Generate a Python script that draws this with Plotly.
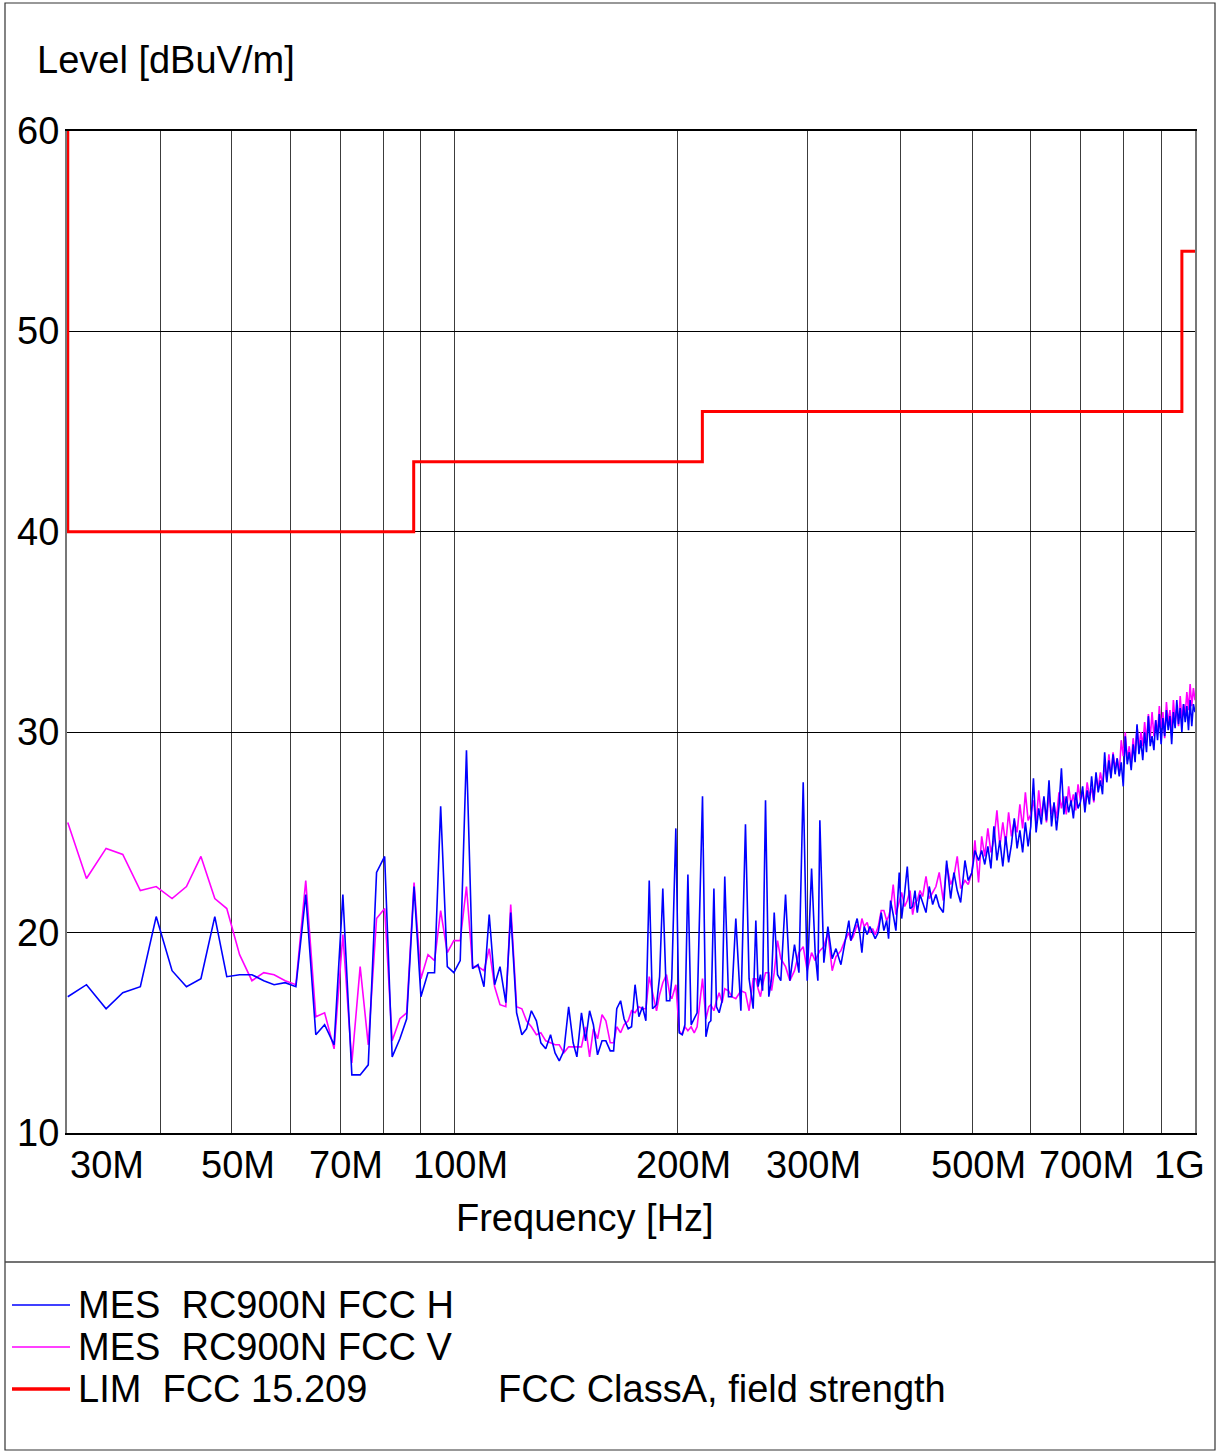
import math
import plotly.graph_objects as go

# ---------------- data (frequencies in MHz, levels in dBuV/m) ----------------
freq_a = [30.0, 31.8, 33.8, 35.6, 37.6, 39.5, 41.5, 43.4, 45.4, 47.4, 49.2, 51.2, 53.2, 55.2, 57.0, 59.0, 61.0, 62.9, 64.9]
h_a = [16.8, 17.4, 16.2, 17.0, 17.3, 20.8, 18.1, 17.3, 17.7, 20.8, 17.8, 17.9, 17.9, 17.6, 17.4, 17.5, 17.3, 21.9, 14.9]
v_a = [25.5, 22.7, 24.2, 23.9, 22.1, 22.3, 21.7, 22.3, 23.8, 21.7, 21.2, 18.9, 17.6, 18.0, 17.9, 17.6, 17.4, 22.6, 15.8]

freq_b = [66.7, 68.7, 70.6, 72.6, 74.5, 76.4, 78.4, 80.4, 82.3, 84.3, 86.1, 88.1, 90.0, 92.0, 93.9, 95.7, 97.7, 99.7,
          101.7, 103.7, 105.7, 107.5, 109.5, 111.3, 113.2, 115.1, 117.2, 119.0, 121.2]
h_b = [15.4, 14.4, 21.9, 12.9, 12.9, 13.4, 23.0, 23.8, 13.8, 14.7, 15.7, 22.3, 16.8, 18.0, 18.0, 26.3, 18.3, 18.0,
       18.6, 29.1, 18.2, 18.4, 17.3, 20.9, 17.4, 18.3, 16.5, 21.0, 16.0]
v_b = [16.0, 14.2, 19.9, 13.5, 18.3, 14.4, 20.7, 21.2, 14.6, 15.7, 16.0, 22.5, 17.7, 18.9, 18.6, 21.1, 19.0, 19.6,
       19.6, 22.3, 18.3, 18.3, 18.1, 19.2, 17.3, 16.4, 16.3, 21.4, 16.3]

freq_c = [123.2, 125.0, 126.9, 128.9, 130.7, 132.7, 134.7, 136.6, 138.4, 140.4, 142.5, 144.5, 146.2, 148.3, 150.2,
          152.1, 153.9, 155.9, 158.1, 160.0, 162.2, 163.9, 165.5, 167.5, 169.3, 171.5, 173.3, 175.2, 177.3, 179.3]
h_c = [14.9, 15.2, 16.1, 15.6, 14.5, 14.2, 14.9, 14.0, 13.6, 14.1, 16.3, 14.5, 13.8, 16.0, 14.6,
       16.1, 15.4, 13.9, 14.6, 14.6, 14.1, 14.1, 16.2, 16.6, 15.7, 15.2, 15.3, 17.4, 15.8, 16.3]
v_c = [16.2, 15.6, 15.3, 14.9, 15.0, 14.6, 14.5, 14.4, 14.4, 14.0, 14.3, 14.3, 14.3, 14.3, 15.3,
       13.8, 15.2, 14.7, 15.9, 15.6, 14.5, 14.5, 15.3, 15.0, 15.4, 15.6, 16.1, 16.0, 16.3, 16.2]

freq_d = [181.2, 183.1, 185.0, 187.3, 189.1, 191.0, 193.2, 195.2, 196.4, 198.9, 201.0, 202.9, 204.6, 206.5, 208.6,
          210.6, 212.5, 216.1, 218.4, 220.4, 221.8, 223.9, 225.7, 227.6, 229.7, 231.6, 234.3, 236.7, 239.7, 243.5,
          247.0, 249.8, 253.0, 255.1, 256.9, 258.8, 260.5, 262.9, 265.6, 267.9, 270.1, 272.9, 275.7, 279.8, 283.6,
          287.7, 291.7, 295.6, 299.3, 303.4, 306.8, 309.4, 311.3, 315.2, 319.2, 323.5, 327.3, 332.4, 336.5, 340.7]
h_d = [15.6, 22.6, 16.2, 16.4, 17.8, 22.2, 16.6, 16.6, 17.7, 25.2, 15.0, 14.9, 15.4, 22.9, 15.4,
       15.7, 16.0, 26.8, 14.8, 15.5, 15.6, 22.2, 16.3, 16.0, 16.6, 22.8, 16.8, 16.8, 20.7, 16.1,
       25.4, 17.7, 16.2, 20.6, 17.3, 17.9, 17.1, 26.6, 16.8, 17.7, 21.0, 17.9, 17.6, 21.9, 17.6,
       19.4, 18.0, 27.5, 17.6, 23.2, 19.0, 17.6, 25.6, 18.5, 20.3, 18.7, 19.2, 18.4, 19.6, 20.6]
v_d = [16.2, 17.8, 17.0, 16.1, 16.9, 17.5, 17.9, 16.9, 16.7, 17.4, 15.1, 14.9, 15.3, 15.1, 15.3,
       15.0, 15.3, 17.7, 15.7, 16.3, 16.4, 16.1, 16.6, 17.0, 16.5, 17.2, 17.1, 16.8, 16.7, 17.1,
       17.0, 16.1, 17.7, 17.7, 17.2, 16.8, 17.4, 18.0, 18.0, 17.1, 18.0, 19.6, 18.7, 18.3, 17.6,
       18.1, 19.0, 19.3, 18.1, 19.0, 18.6, 18.9, 19.1, 19.3, 20.0, 18.1, 18.8, 19.1, 19.6, 20.0]

freq_e = [342.8, 345.3, 349.6, 352.6, 354.8, 357.3, 360.7, 363.7, 366.8, 369.8, 373.3, 376.8, 379.9, 383.2, 385.5,
          387.9, 391.1, 394.4, 398.5, 401.5, 405.3, 408.6, 412.1, 415.5, 418.5, 421.5, 425.1, 428.6, 433.1, 437.5,
          442.2, 446.7, 451.3, 457.0, 461.8, 467.6, 472.4, 477.3, 482.4, 488.9, 493.9, 499.6, 504.3]
h_e = [19.6, 20.0, 20.7, 19.9, 19.0, 20.3, 19.9, 20.3, 20.0, 19.7, 20.0, 21.0, 20.1, 20.6, 19.7,
       21.6, 20.9, 20.1, 23.0, 20.7, 22.0, 23.3, 21.2, 21.3, 22.1, 21.0, 21.9, 21.5, 21.0, 22.3,
       21.4, 21.9, 21.3, 21.0, 23.6, 21.7, 23.0, 22.1, 21.5, 23.6, 22.6, 23.0, 24.1]
v_e = [19.6, 19.8, 20.4, 20.1, 20.7, 20.3, 20.5, 20.0, 20.2, 19.9, 20.3, 21.1, 21.1, 20.6, 20.8,
       21.2, 22.4, 20.9, 21.6, 22.0, 21.3, 21.6, 22.1, 20.9, 21.5, 21.6, 22.1, 21.8, 22.8, 21.7,
       22.0, 22.3, 23.0, 21.6, 23.4, 22.4, 22.8, 23.8, 22.2, 22.6, 22.4, 23.0, 24.6]

freq_f = [510, 515, 520, 525, 530, 535, 540, 545, 550, 555, 560, 565, 570, 575, 580, 585, 590, 595, 600, 605,
          610, 615, 620, 625, 630, 635, 640, 645, 650, 655, 660, 665, 670, 675, 680, 685, 690, 695, 700, 705,
          710, 715, 720, 725, 730, 735, 740, 745, 750, 755, 760, 765, 770, 775, 780, 785, 790, 795, 800, 805,
          810, 815, 820, 825, 830, 835, 840, 845, 850, 855, 860, 865, 870, 875, 880, 885, 890, 895, 900, 905,
          910, 915, 920, 925, 930, 935, 940, 945, 950, 955, 960, 965, 970, 975, 980, 985, 990, 995, 1000]
h_f = [23.6, 24.1, 23.4, 24.3, 23.2, 25.3, 23.6, 24.6, 23.3, 24.8, 23.5, 24.4, 25.7, 24.2, 25.1, 24.0, 25.5, 24.3, 25.3, 27.7,
       25.0, 26.2, 25.4, 26.8, 25.6, 27.6, 25.3, 26.5, 25.1, 26.3, 28.2, 25.9, 26.8, 26.0, 26.6, 25.7, 27.0, 26.2, 26.5, 27.3,
       26.0, 27.1, 26.4, 27.8, 26.6, 28.0, 27.0, 27.6, 26.9, 29.0, 27.5, 28.6, 27.7, 28.9, 27.9, 28.7, 27.8, 28.5, 27.3, 29.8,
       28.4, 29.0, 28.1, 29.4, 28.5, 30.4, 28.9, 29.6, 28.6, 30.0, 29.0, 30.8, 29.3, 29.8, 29.1, 30.6, 29.6, 30.9, 29.4, 30.7,
       29.8, 31.1, 30.1, 30.8, 29.4, 31.0, 30.2, 31.6, 30.4, 31.2, 30.0, 31.4, 30.5, 31.3, 30.1, 31.6, 30.3, 31.4, 31.0]
v_f = [22.5, 24.8, 23.8, 25.2, 24.0, 24.6, 26.1, 24.3, 25.5, 24.4, 26.0, 24.8, 25.6, 25.0, 26.4, 25.2, 27.0, 25.6, 25.9, 26.6,
       25.4, 27.1, 25.8, 26.7, 25.5, 26.9, 25.9, 26.4, 25.7, 27.0, 26.2, 26.8, 25.9, 27.3, 26.4, 26.9, 26.1, 27.4, 26.6, 27.0,
       26.3, 27.5, 26.8, 27.2, 26.5, 27.8, 27.2, 28.0, 27.4, 28.4, 27.6, 28.9, 27.8, 29.0, 28.2, 28.7, 27.9, 29.6, 28.8, 30.0,
       28.6, 29.3, 28.4, 29.7, 28.8, 30.3, 29.2, 30.0, 29.3, 30.5, 29.5, 30.9, 29.7, 31.0, 29.8, 30.6, 29.9, 31.3, 30.2, 31.0,
       29.7, 31.5, 30.4, 31.1, 30.0, 31.6, 30.5, 31.2, 30.3, 31.8, 30.6, 31.4, 30.9, 32.0, 31.1, 32.4, 31.3, 32.2, 31.6]

lim_freq = [30, 30, 88, 88, 216, 216, 960, 960, 1000]
lim_level = [60, 40, 40, 43.5, 43.5, 46, 46, 54, 54]

x_grid = [40, 50, 60, 70, 80, 90, 100, 200, 300, 400, 500, 600, 700, 800, 900]
y_ticks = [10, 20, 30, 40, 50, 60]
x_tick_vals = [30, 50, 70, 100, 200, 300, 500, 700, 1000]
x_tick_text = ["30M", "50M", "70M", "100M", "200M", "300M", "500M", "700M", "1G"]
legend_labels = ["MES\u00a0\u00a0RC900N FCC H", "MES\u00a0\u00a0RC900N FCC V", "LIM\u00a0\u00a0FCC 15.209"]
legend_colors = ["#0000ff", "#ff00ff", "#ff0000"]
legend_widths = [1.5, 1.5, 3.5]
limit_note = "FCC ClassA, field strength"

freq_mhz = freq_a + freq_b + freq_c + freq_d + freq_e + freq_f
level_h = h_a + h_b + h_c + h_d + h_e + h_f
level_v = v_a + v_b + v_c + v_d + v_e + v_f

# ---------------- layout geometry ----------------
W, H = 1217, 1452
L, R, T, B = 67, 22, 131, 319
PW, PH = W - L - R, H - T - B
FONT = "Liberation Sans, Arial, sans-serif"
FS = 38


def pxx(xp):
    return (xp - L) / PW


def pyy(yp):
    return (H - B - yp) / PH


fig = go.Figure()
fig.add_trace(go.Scatter(x=freq_mhz, y=level_v, mode="lines",
                         line=dict(color="#ff00ff", width=1.6), hoverinfo="skip"))
fig.add_trace(go.Scatter(x=freq_mhz, y=level_h, mode="lines",
                         line=dict(color="#0000ff", width=1.6), hoverinfo="skip"))
fig.add_trace(go.Scatter(x=lim_freq, y=lim_level, mode="lines",
                         line=dict(color="#ff0000", width=3), hoverinfo="skip"))

annotations = []
for v in y_ticks:
    annotations.append(dict(x=0, xref="paper", y=v, yref="y", text=str(v), showarrow=False,
                            xanchor="right", yanchor="middle", xshift=-6,
                            font=dict(family=FONT, size=FS, color="black")))
for val, txt in zip(x_tick_vals, x_tick_text):
    if txt == x_tick_text[0]:
        anchor, shift = "left", 0
    elif txt == x_tick_text[-1]:
        anchor, shift = "right", 12
    else:
        anchor, shift = "center", 6
    annotations.append(dict(x=math.log10(val), xref="x", y=pyy(1165), yref="paper", text=txt,
                            showarrow=False, xanchor=anchor, yanchor="middle", xshift=shift,
                            font=dict(family=FONT, size=FS, color="black")))
annotations.append(dict(x=pxx(35), y=pyy(60), xref="paper", yref="paper", text="Level [dBuV/m]",
                        showarrow=False, xanchor="left", yanchor="middle",
                        font=dict(family=FONT, size=FS, color="black")))
annotations.append(dict(x=pxx(585), y=pyy(1218), xref="paper", yref="paper", text="Frequency [Hz]",
                        showarrow=False, xanchor="center", yanchor="middle",
                        font=dict(family=FONT, size=FS, color="black")))

shapes = []
leg_y = [1305, 1347, 1389]
for i, (lab, col, lw) in enumerate(zip(legend_labels, legend_colors, legend_widths)):
    shapes.append(dict(type="line", xref="paper", yref="paper", x0=pxx(12), x1=pxx(70),
                       y0=pyy(leg_y[i]), y1=pyy(leg_y[i]), line=dict(color=col, width=lw)))
    annotations.append(dict(x=pxx(76), y=pyy(leg_y[i]), xref="paper", yref="paper", text=lab,
                            showarrow=False, xanchor="left", yanchor="middle",
                            font=dict(family=FONT, size=FS, color="black")))
annotations.append(dict(x=pxx(496), y=pyy(leg_y[2]), xref="paper", yref="paper", text=limit_note,
                        showarrow=False, xanchor="left", yanchor="middle",
                        font=dict(family=FONT, size=FS, color="black")))

# outer frame and legend separator
shapes.append(dict(type="rect", xref="paper", yref="paper", x0=pxx(5), x1=pxx(1215),
                   y0=pyy(1450), y1=pyy(3), line=dict(color="#333333", width=1.2)))
shapes.append(dict(type="line", xref="paper", yref="paper", x0=pxx(5), x1=pxx(1215),
                   y0=pyy(1262), y1=pyy(1262), line=dict(color="#444444", width=1.5)))

fig.update_layout(
    width=W, height=H,
    margin=dict(l=L, r=R, t=T, b=B, pad=0),
    paper_bgcolor="white", plot_bgcolor="white",
    showlegend=False,
    annotations=annotations,
    shapes=shapes,
    xaxis=dict(type="log", range=[math.log10(29.93), 3], tickvals=x_grid, showticklabels=False,
               ticks="", showgrid=True, gridcolor="#3c3c3c", gridwidth=1,
               showline=True, linecolor="#000000", linewidth=1.5, mirror=True, zeroline=False,
               fixedrange=True),
    yaxis=dict(range=[10, 60], tickvals=y_ticks, showticklabels=False, ticks="",
               showgrid=True, gridcolor="#000000", gridwidth=1,
               showline=True, linecolor="#777777", linewidth=1.5, mirror=True, zeroline=False,
               fixedrange=True),
)

fig.write_html("out.html", config={"displayModeBar": False},
               post_script="document.body.style.margin='0';")
